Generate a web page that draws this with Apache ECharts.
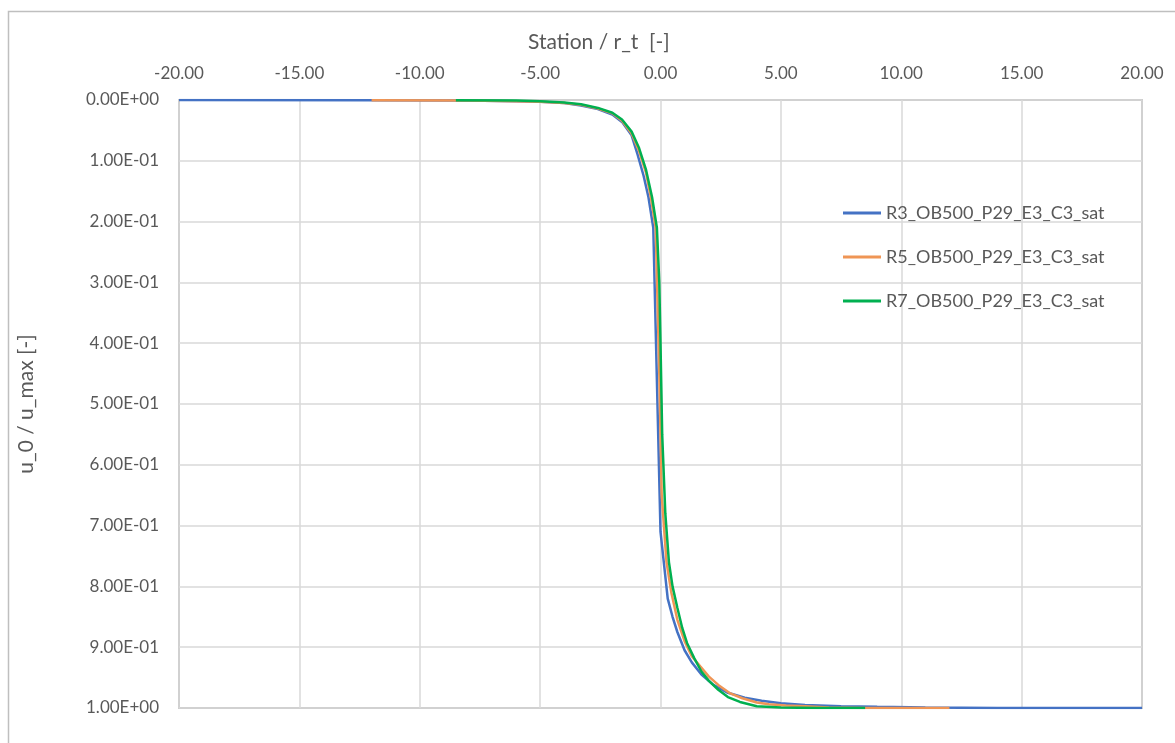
<!DOCTYPE html>
<html>
<head>
<meta charset="utf-8">
<script src="https://cdn.jsdelivr.net/npm/echarts@6/dist/echarts.min.js"></script>
<style>
html,body{margin:0;padding:0;background:#fff;}
#chart{width:1175px;height:743px;}
</style>
</head>
<body>
<div id="chart"></div>
<script>
var seriesNames = ['R3_OB500_P29_E3_C3_sat', 'R5_OB500_P29_E3_C3_sat', 'R7_OB500_P29_E3_C3_sat'];

var xR3 = [-20, -12, -8, -6, -5, -4, -3.3, -2.6, -2.0, -1.6, -1.2, -0.95, -0.7, -0.5, -0.3, 0.0, 0.3, 0.5, 0.7, 1.0, 1.3, 1.7, 2.2, 2.8, 3.5, 4.2, 5.0, 6.0, 7.5, 9.0, 11, 14, 20];
var yR3 = [0, 0.0003, 0.001, 0.002, 0.003, 0.005, 0.009, 0.015, 0.024, 0.036, 0.058, 0.09, 0.125, 0.16, 0.21, 0.71, 0.82, 0.85, 0.875, 0.905, 0.925, 0.945, 0.962, 0.975, 0.983, 0.988, 0.992, 0.995, 0.997, 0.998, 0.999, 1.0, 1.0];

var xR5 = [-12, -8, -6, -5, -4, -3.3, -2.6, -2.0, -1.6, -1.2, -0.9, -0.6, -0.4, -0.2, -0.05, 0.05, 0.25, 0.45, 0.7, 1.0, 1.3, 1.66, 2.0, 2.4, 2.9, 3.4, 4.0, 4.5, 5.2, 6.0, 7.0, 8.5, 12];
var yR5 = [0.0003, 0.001, 0.002, 0.003, 0.005, 0.008, 0.014, 0.022, 0.034, 0.055, 0.083, 0.12, 0.16, 0.21, 0.45, 0.65, 0.76, 0.81, 0.855, 0.89, 0.915, 0.932, 0.948, 0.962, 0.976, 0.984, 0.991, 0.994, 0.996, 0.997, 0.999, 1.0, 1.0];

var xR7 = [-8.5, -6, -5, -4, -3.3, -2.6, -2.0, -1.6, -1.2, -0.9, -0.6, -0.35, -0.15, -0.05, 0.0, 0.07, 0.2, 0.35, 0.5, 0.7, 0.9, 1.1, 1.4, 1.7, 2.0, 2.4, 2.8, 3.3, 4.0, 5.0, 6.5, 8.5];
var yR7 = [0.0005, 0.001, 0.002, 0.004, 0.007, 0.013, 0.021, 0.032, 0.052, 0.078, 0.115, 0.16, 0.21, 0.3, 0.4, 0.55, 0.68, 0.76, 0.8, 0.835, 0.868, 0.893, 0.918, 0.94, 0.955, 0.97, 0.982, 0.99, 0.997, 0.999, 1.0, 1.0];

var xTickLabels = ['-20.00', '-15.00', '-10.00', '-5.00', '0.00', '5.00', '10.00', '15.00', '20.00'];
var yTickLabels = ['0.00E+00', '1.00E-01', '2.00E-01', '3.00E-01', '4.00E-01', '5.00E-01', '6.00E-01', '7.00E-01', '8.00E-01', '9.00E-01', '1.00E+00'];

var colors = ['#4472C4', '#EF9555', '#00B050'];

function pairs(xs, ys) { return xs.map(function (x, i) { return [x, ys[i]]; }); }

var chart = echarts.init(document.getElementById('chart'), null, { renderer: 'canvas' });
var FONT = 'Lato';
var TXT = '#595959';

var option = {
  animation: false,
  backgroundColor: '#ffffff',
  color: colors,
  graphic: [
    { type: 'rect', shape: { x: 8.5, y: 11.5, width: 1300, height: 900 }, style: { fill: 'none', stroke: '#bfbfbf', lineWidth: 1.5 }, z: -1, silent: true },
    { type: 'text', left: 528, top: 32, style: { text: 'Station / r_t  [-]', font: '21px Lato', fill: TXT } }
  ],
  grid: { left: 179, right: 33, top: 100, bottom: 35, show: true, borderColor: '#a6a6a6', borderWidth: 1.5, containLabel: false },
  legend: {
    orient: 'vertical',
    left: 838,
    top: 197,
    itemWidth: 38,
    itemHeight: 3,
    itemGap: 22,
    icon: 'rect',
    textStyle: { fontFamily: FONT, fontSize: 18, color: TXT, lineHeight: 22 },
    data: seriesNames
  },
  xAxis: {
    type: 'value',
    position: 'top',
    min: -20, max: 20, interval: 5,
    axisLine: { show: false },
    axisTick: { show: false },
    splitLine: { show: true, lineStyle: { color: '#d9d9d9', width: 1.5 } },
    axisLabel: {
      margin: 18, fontFamily: FONT, fontSize: 17, color: TXT,
      formatter: function (v) { return xTickLabels[Math.round((v + 20) / 5)]; }
    }
  },
  yAxis: {
    type: 'value',
    inverse: true,
    min: 0, max: 1, interval: 0.1,
    name: 'u_0 / u_max [-]',
    nameLocation: 'middle',
    nameGap: 142,
    nameTextStyle: { fontFamily: FONT, fontSize: 21, color: TXT },
    axisLine: { show: false },
    axisTick: { show: false },
    splitLine: { show: true, lineStyle: { color: '#d9d9d9', width: 1.5 } },
    axisLabel: {
      margin: 20, fontFamily: FONT, fontSize: 17, color: TXT,
      formatter: function (v) { return yTickLabels[Math.round(v * 10)]; }
    }
  },
  series: [
    { name: seriesNames[0], type: 'line', data: pairs(xR3, yR3), showSymbol: false, lineStyle: { width: 2.5, color: colors[0] }, z: 2 },
    { name: seriesNames[1], type: 'line', data: pairs(xR5, yR5), showSymbol: false, lineStyle: { width: 2.5, color: colors[1] }, z: 3 },
    { name: seriesNames[2], type: 'line', data: pairs(xR7, yR7), showSymbol: false, lineStyle: { width: 2.5, color: colors[2] }, z: 4 }
  ]
};
chart.setOption(option);
</script>
</body>
</html>
